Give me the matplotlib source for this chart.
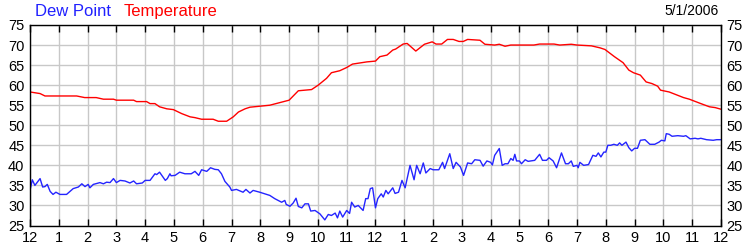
import matplotlib
matplotlib.use("Agg")
import matplotlib.pyplot as plt

# hours since midnight, values in deg F
temp_hours = [0, 0.35, 0.52, 1.62, 1.9, 2.3, 2.55, 2.9, 3.0, 3.6, 3.7, 4.05, 4.17, 4.34,
              4.5, 4.75, 4.98, 5.27, 5.56, 5.73, 5.96, 6.36, 6.54, 6.83, 7.06, 7.24,
              7.47, 7.64, 8.33, 9.0, 9.32, 9.78, 10.01, 10.3, 10.47, 10.76, 11.0,
              11.2, 11.7, 12.0, 12.15, 12.4, 12.6, 12.7, 12.96, 13.1, 13.4, 13.7,
              13.97, 14.1, 14.3, 14.5, 14.7, 14.9, 15.05, 15.2, 15.63, 15.8, 16.14,
              16.3, 16.5, 16.7, 17.5, 17.7, 18.2, 18.4, 18.8, 19.0, 19.5, 19.8,
              19.97, 20.3, 20.6, 20.8, 20.96, 21.2, 21.4, 21.6, 21.8, 21.9, 22.2,
              22.7, 22.9, 23.3, 23.6, 23.8, 24.0]
temp_vals = [58.3, 57.9, 57.3, 57.3, 56.9, 56.9, 56.5, 56.5, 56.25, 56.25, 55.9, 55.9,
             55.4, 55.4, 54.6, 54.1, 53.9, 52.9, 52.1, 51.9, 51.5, 51.5, 51.0, 51.0,
             52.1, 53.3, 54.1, 54.5, 55.0, 56.25, 58.6, 58.9, 60.0, 61.7, 63.1, 63.6,
             64.4, 65.25, 65.8, 66.0, 67.1, 67.5, 68.75, 69.0, 70.25, 70.4, 68.5,
             70.2, 70.8, 70.25, 70.25, 71.4, 71.4, 70.9, 70.9, 71.4, 71.2, 70.2,
             70.0, 70.2, 69.7, 70.0, 70.0, 70.25, 70.25, 70.0, 70.2, 70.0, 69.8,
             69.3, 68.9, 67.1, 65.6, 63.75, 63.1, 62.5, 60.8, 60.4, 59.75, 58.75,
             58.3, 56.9, 56.5, 55.4, 54.6, 54.4, 54.0]

dew_hours = [0, 0.08, 0.17, 0.35, 0.44, 0.52, 0.6, 0.7, 0.8, 0.9, 1.04, 1.27, 1.5, 1.68,
             1.8, 1.91, 2.02, 2.08, 2.2, 2.43, 2.55, 2.66, 2.78, 2.9, 3.0, 3.13, 3.3,
             3.47, 3.6, 3.7, 3.9, 4.0, 4.17, 4.34, 4.4, 4.5, 4.7, 4.77, 4.86, 4.9,
             5.04, 5.2, 5.38, 5.6, 5.73, 5.86, 5.96, 6.14, 6.27, 6.42, 6.54, 6.65,
             6.77, 6.94, 7.0, 7.17, 7.4, 7.5, 7.64, 7.75, 7.98, 8.16, 8.33, 8.5,
             8.74, 8.85, 8.9, 9.03, 9.14, 9.24, 9.32, 9.44, 9.55, 9.67, 9.75, 9.9,
             10.07, 10.24, 10.36, 10.47, 10.6, 10.68, 10.76, 10.86, 11.0, 11.1,
             11.17, 11.28, 11.4, 11.57, 11.66, 11.74, 11.82, 11.9, 12.0, 12.08,
             12.2, 12.27, 12.36, 12.44, 12.6, 12.68, 12.8, 12.92, 13.03, 13.2,
             13.34, 13.43, 13.55, 13.66, 13.75, 13.9, 14.0, 14.2, 14.33, 14.4,
             14.58, 14.7, 14.8, 14.95, 15.06, 15.2, 15.34, 15.45, 15.63, 15.74,
             15.87, 16.0, 16.06, 16.14, 16.26, 16.3, 16.4, 16.5, 16.6, 16.7, 16.78,
             16.84, 16.9, 17.0, 17.07, 17.2, 17.3, 17.53, 17.7, 17.8, 17.94, 18.03,
             18.17, 18.29, 18.46, 18.6, 18.7, 18.8, 18.87, 19.0, 19.04, 19.1, 19.23,
             19.4, 19.55, 19.66, 19.74, 19.83, 19.93, 20.0, 20.07, 20.17, 20.28,
             20.4, 20.48, 20.56, 20.7, 20.8, 20.9, 21.0, 21.1, 21.2, 21.36, 21.53,
             21.7, 21.85, 21.93, 22.05, 22.1, 22.2, 22.3, 22.5, 22.7, 22.78, 22.93,
             23.1, 23.2, 23.3, 23.5, 23.73, 23.85, 24.0]
dew_vals = [33.75, 36.4, 35.0, 36.7, 34.6, 34.7, 35.25, 33.5, 32.75, 33.3, 32.75, 32.75,
            34.2, 34.6, 35.4, 34.7, 35.25, 34.4, 35.25, 35.7, 35.4, 35.8, 35.7, 36.7,
            35.7, 36.25, 36.1, 35.6, 36.1, 35.4, 35.6, 36.25, 36.25, 37.9, 37.7,
            38.3, 36.25, 36.7, 37.9, 37.4, 37.5, 38.3, 37.9, 37.9, 38.5, 37.5, 38.9,
            38.5, 39.4, 39.0, 38.9, 37.9, 36.0, 34.6, 33.75, 34.0, 33.3, 34.0, 33.1,
            33.75, 33.3, 32.9, 32.5, 31.7, 30.8, 31.25, 30.25, 29.8, 30.6, 31.8,
            29.75, 29.4, 30.4, 30.4, 28.6, 28.75, 27.9, 26.4, 27.75, 27.5, 28.1,
            26.9, 28.6, 27.1, 28.75, 28.0, 30.8, 29.6, 30.0, 28.75, 31.7, 31.7,
            34.2, 34.4, 29.4, 31.7, 32.9, 32.1, 33.75, 32.9, 34.4, 33.0, 33.3,
            36.25, 34.4, 40.0, 36.4, 40.0, 37.9, 40.6, 38.1, 39.2, 38.9, 38.9,
            40.75, 39.2, 42.9, 39.2, 40.75, 39.6, 37.5, 40.6, 40.4, 41.4, 41.25,
            39.8, 41.1, 40.75, 40.1, 42.5, 43.75, 44.2, 40.0, 40.4, 40.4, 41.7,
            41.25, 42.75, 41.1, 41.1, 40.4, 41.4, 41.0, 41.25, 42.75, 41.25, 41.25,
            41.9, 41.1, 39.4, 43.1, 40.4, 40.4, 41.1, 39.75, 40.0, 39.4, 40.75,
            40.0, 40.2, 42.5, 42.25, 43.1, 42.1, 43.3, 43.3, 45.0, 45.0, 45.25,
            45.0, 45.6, 45.0, 45.8, 44.4, 43.6, 44.25, 44.25, 46.25, 46.4, 45.25,
            45.25, 45.8, 46.25, 46.1, 47.9, 47.75, 47.25, 47.4, 47.25, 47.4, 46.6,
            46.75, 46.6, 46.75, 46.4, 46.25, 46.4, 46.4]

hour_labels = ["12"] + [str(h) for h in range(1, 12)] + ["12"] + [str(h) for h in range(1, 12)] + ["12"]
y_ticks = [25, 30, 35, 40, 45, 50, 55, 60, 65, 70, 75]

plt.rcParams['font.family'] = ['Liberation Sans', 'DejaVu Sans']

fig = plt.figure(figsize=(7.5, 2.5), dpi=100)
ax = fig.add_axes([0.04, 0.098, 0.9213, 0.802])

ax.plot(temp_hours, temp_vals, color='#ff0000', lw=1.0)
ax.plot(dew_hours, dew_vals, color='#2424ff', lw=1.0)

ax.set_xlim(0, 24)
ax.set_ylim(25, 75)
ax.set_xticks(range(25))
ax.set_xticklabels(hour_labels)
ax.set_yticks(y_ticks)
ax.grid(True, color='#c8c8c8', lw=1.0)
ax.set_axisbelow(True)

ax.tick_params(axis='x', which='both', direction='in', length=5, width=1,
               top=True, bottom=True, labelsize=10.5, pad=4)
ax.tick_params(axis='y', length=0, labelsize=10.5, pad=4,
               left=True, right=True, labelleft=True, labelright=True)
for s in ax.spines.values():
    s.set_color('black')
    s.set_linewidth(1)

fig.text(0.047, 0.955, "Dew Point", color='#2020ff', fontsize=12, va='center', ha='left')
fig.text(0.165, 0.955, "Temperature", color='#ff0000', fontsize=12, va='center', ha='left')
fig.text(0.958, 0.955, "5/1/2006", color='black', fontsize=10, va='center', ha='right')

fig.savefig("out.png", dpi=100)
